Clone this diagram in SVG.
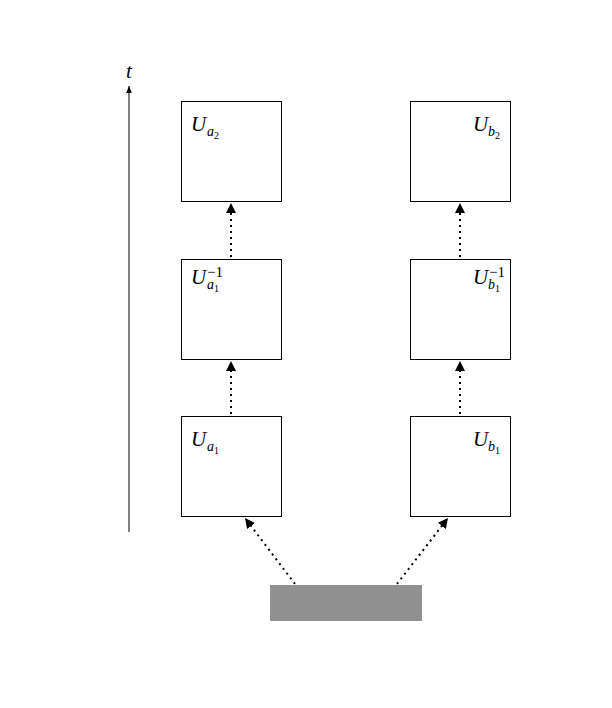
<svg xmlns="http://www.w3.org/2000/svg" width="612" height="708" viewBox="0 0 612 708">
<style>
.box{fill:#fff;stroke:#000;stroke-width:1}
.lbl{font-family:"Liberation Serif",serif;font-style:italic;font-size:21px;fill:#000}
.sub{font-size:14px}
.num{font-style:normal;font-size:10px}
.sup{font-style:normal;font-size:15px}
.dot{stroke:#000;stroke-width:2;stroke-dasharray:2 4;fill:none}
</style>
<defs>
<marker id="ah" viewBox="0 0 10 10" refX="10" refY="5" markerWidth="10" markerHeight="10" markerUnits="userSpaceOnUse" orient="auto">
<path d="M0,0 L10,5 L0,10 z" fill="#000"/>
</marker>
<marker id="ah2" viewBox="0 0 10 10" refX="10" refY="5" markerWidth="7" markerHeight="7" markerUnits="userSpaceOnUse" orient="auto">
<path d="M0,1 L10,5 L0,9 z" fill="#000"/>
</marker>
</defs>
<rect width="612" height="708" fill="#fff"/>
<g id="axis">
<line x1="129" y1="532" x2="129" y2="86" stroke="#000" stroke-width="1" marker-end="url(#ah2)"/>
<text x="129" y="78" class="lbl" font-size="18" text-anchor="middle">t</text>
</g>
<g id="connectors">
<line class="dot" x1="231" y1="414" x2="231" y2="361" marker-end="url(#ah)"/>
<line class="dot" x1="231" y1="257" x2="231" y2="203" marker-end="url(#ah)"/>
<line class="dot" x1="460" y1="414" x2="460" y2="361" marker-end="url(#ah)"/>
<line class="dot" x1="460" y1="257" x2="460" y2="203" marker-end="url(#ah)"/>
<line class="dot" x1="295" y1="584" x2="245" y2="518" marker-end="url(#ah)"/>
<line class="dot" x1="397" y1="584" x2="448" y2="518" marker-end="url(#ah)"/>
</g>
<g id="source"><rect x="270" y="585" width="152" height="36" fill="#919191"/></g>
<g id="Ua2"><rect class="box" x="181.5" y="101.5" width="100" height="100"/>
<text class="lbl" x="191" y="131">U<tspan class="sub" x="207" y="136">a</tspan><tspan class="num" y="139">2</tspan></text></g>
<g id="Ua1inv"><rect class="box" x="181.5" y="259.5" width="100" height="100"/>
<text class="lbl" x="191" y="284">U<tspan class="sub" x="207" y="289">a</tspan><tspan class="num" y="292">1</tspan><tspan class="sup" x="207" y="277">−1</tspan></text></g>
<g id="Ua1"><rect class="box" x="181.5" y="416.5" width="100" height="100"/>
<text class="lbl" x="191" y="446">U<tspan class="sub" x="207" y="451">a</tspan><tspan class="num" y="454">1</tspan></text></g>
<g id="Ub2"><rect class="box" x="410.5" y="101.5" width="100" height="100"/>
<text class="lbl" x="473" y="131">U<tspan class="sub" x="488" y="136">b</tspan><tspan class="num" y="139">2</tspan></text></g>
<g id="Ub1inv"><rect class="box" x="410.5" y="259.5" width="100" height="100"/>
<text class="lbl" x="473" y="284">U<tspan class="sub" x="488" y="289">b</tspan><tspan class="num" y="292">1</tspan><tspan class="sup" x="489" y="277">−1</tspan></text></g>
<g id="Ub1"><rect class="box" x="410.5" y="416.5" width="100" height="100"/>
<text class="lbl" x="473" y="446">U<tspan class="sub" x="488" y="451">b</tspan><tspan class="num" y="454">1</tspan></text></g>
</svg>
